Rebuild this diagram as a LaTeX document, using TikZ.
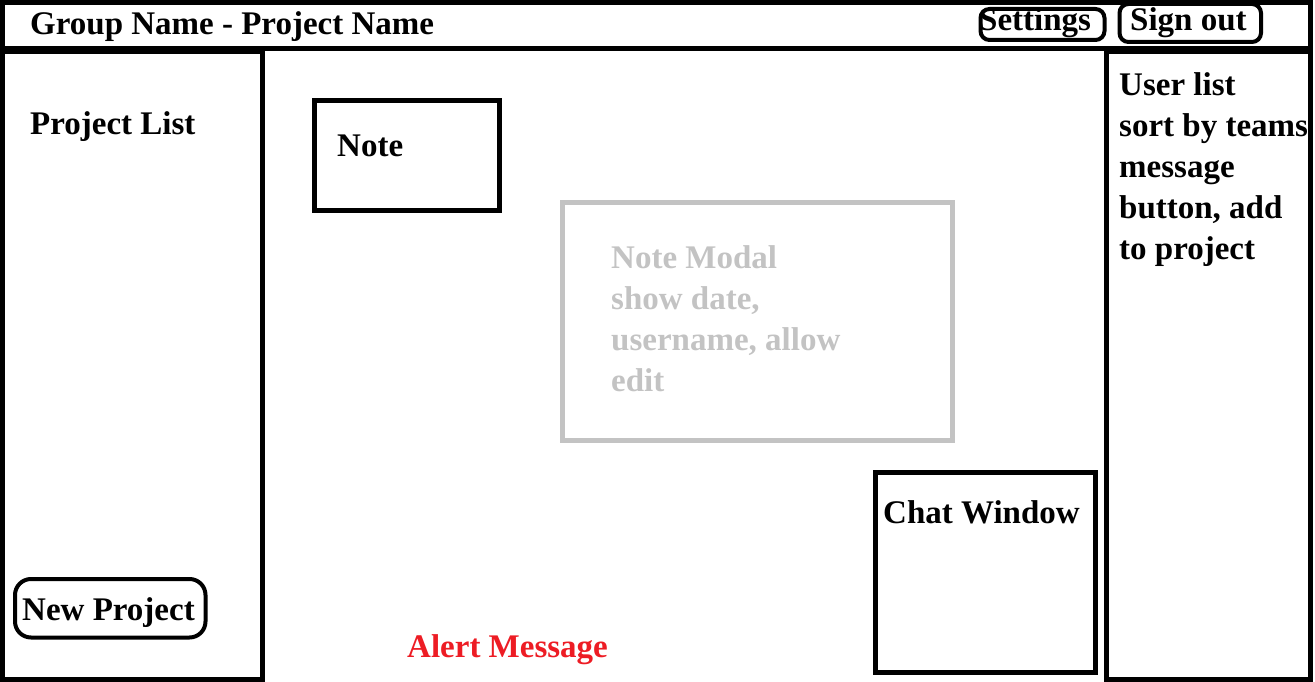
\documentclass[tikz,border=0pt]{standalone}
\usepackage{fontspec}
\setmainfont{Liberation Serif}
\usepackage{xcolor}
\usepackage{tikz}
\usetikzlibrary{positioning}

\definecolor{modalgray}{RGB}{195,195,195}
\definecolor{alertred}{RGB}{237,28,36}

\tikzset{
  wire/.style={line width=5pt},
  btn/.style={line width=4pt, rounded corners=9pt},
  lbl/.style={font=\bfseries\fontsize{33}{41}\selectfont, anchor=base west,
              inner sep=0pt, align=left},
}

\begin{document}
\begin{tikzpicture}[x=1pt, y=-1pt]
  \useasboundingbox (0,0) rectangle (1315,682);

  % Header bar
  \draw[wire] (2.5,2.5) rectangle (1310.5,49);
  \node[lbl] (title) at (30,35) {Group Name - Project Name};
  \draw[btn] (980.5,9) rectangle (1104.5,40);
  \node[lbl] (settings) at (979,31) {Settings};
  \draw[btn] (1119.5,4) rectangle (1261,42);
  \node[lbl] (signout) at (1130,31) {Sign out};

  % Left side: project list
  \draw[wire] (2.5,52) rectangle (262.5,679.5);
  \node[lbl] (projlist) at (30,135) {Project List};
  \draw[btn, rounded corners=16pt] (15,579) rectangle (205.5,637.5);
  \node[lbl] (newproj) at (22,620) {New Project};

  % Right side: users (base = last line)
  \draw[wire] (1106.5,52) rectangle (1310.5,679.5);
  \node[lbl] (users) at (1119,259) {User list\\sort by teams\\message\\button, add\\to project};

  % Main area
  \draw[wire] (314.5,100.5) rectangle (499.5,210.5);
  \node[lbl] (note) at (337,157) {Note};

  \draw[wire, modalgray] (562.5,202.5) rectangle (952.5,440.5);
  \node[lbl, modalgray] (modal) at (611,391) {Note Modal\\show date,\\username, allow\\edit};

  \draw[wire] (875.5,472.5) rectangle (1095,672.5);
  \node[lbl] (chat) at (883,523) {Chat Window};

  \node[lbl, alertred] (alert) at (407,657) {Alert Message};
\end{tikzpicture}
\end{document}
